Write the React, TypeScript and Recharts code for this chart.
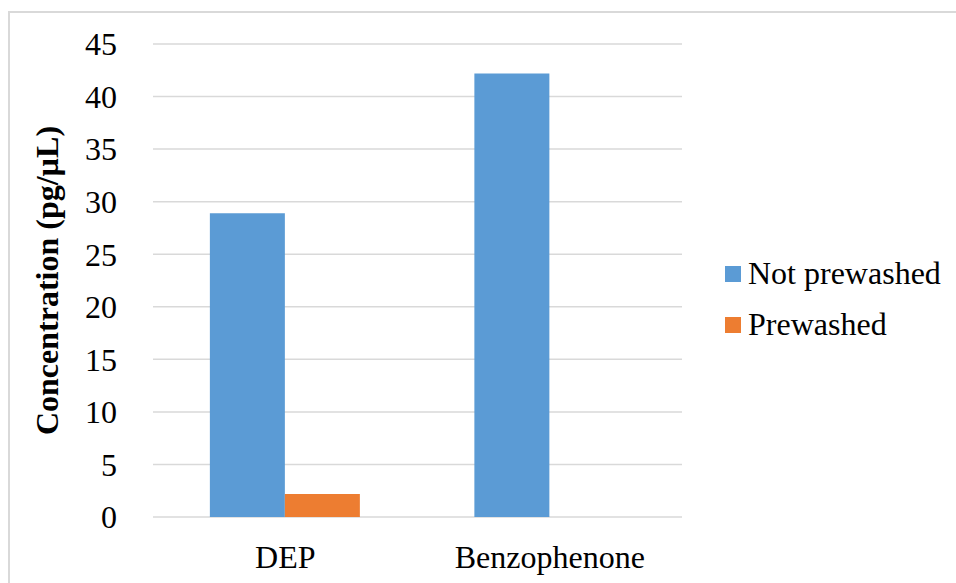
import React from 'react';
import { BarChart, Bar, XAxis, YAxis, CartesianGrid, Legend } from 'recharts';

const categories = ['DEP', 'Benzophenone'];
const notPrewashed = [28.9, 42.2];
const prewashed = [2.2, 0];
const yTicks = [0, 5, 10, 15, 20, 25, 30, 35, 40, 45];

const seriesNames = ['Not prewashed', 'Prewashed'];
const seriesColors = ['#5B9BD5', '#ED7D31'];

const data = categories.map((name, i) => ({
  name,
  notPrewashed: notPrewashed[i],
  prewashed: prewashed[i],
}));

const FONT = '"Liberation Serif", "Times New Roman", serif';
const FS = 32;

const LegendBox = () => (
  <div style={{ fontFamily: FONT, fontSize: FS, color: '#000' }}>
    {seriesNames.map((n, i) => (
      <div key={n} style={{ display: 'flex', alignItems: 'center', height: 51 }}>
        <span style={{ width: 16, height: 16, background: seriesColors[i], marginRight: 7, display: 'inline-block' }} />
        <span>{n}</span>
      </div>
    ))}
  </div>
);

const App: React.FC = () => {
  return (
    <div
      style={{
        position: 'absolute',
        left: 8,
        top: 11,
        width: 946,
        height: 570,
        borderLeft: '2px solid #d9d9d9',
        borderTop: '2px solid #d9d9d9',
        overflow: 'hidden',
        background: '#fff',
      }}
    >
      <BarChart
        width={944}
        height={570}
        data={data}
        margin={{ top: 31, right: 272, left: 0, bottom: 6 }}
        barCategoryGap="21.5%"
        barGap={0}
      >
        <CartesianGrid vertical={false} stroke="#d9d9d9" strokeWidth={1.5} />
        <XAxis
          dataKey="name"
          axisLine={false}
          tickLine={false}
          height={60}
          tickMargin={22}
          tick={{ fontFamily: FONT, fontSize: FS, fill: '#000' }}
        />
        <YAxis
          width={143}
          domain={[0, 45]}
          ticks={yTicks}
          axisLine={false}
          tickLine={false}
          tickSize={0}
          tickMargin={36}
          tick={{ fontFamily: FONT, fontSize: FS, fill: '#000' }}
          label={{
            value: 'Concentration (pg/µL)',
            angle: -90,
            position: 'insideLeft',
            offset: 37,
            style: { textAnchor: 'middle', fontFamily: FONT, fontSize: FS, fontWeight: 'bold', fill: '#000' },
          }}
        />
        <Legend
          layout="horizontal"
          verticalAlign="middle"
          align="center"
          content={() => <LegendBox />}
          wrapperStyle={{ left: 715, top: 235, width: 230 }}
        />
        <Bar dataKey="notPrewashed" name={seriesNames[0]} fill={seriesColors[0]} isAnimationActive={false} />
        <Bar dataKey="prewashed" name={seriesNames[1]} fill={seriesColors[1]} isAnimationActive={false} />
      </BarChart>
    </div>
  );
};

export default App;
